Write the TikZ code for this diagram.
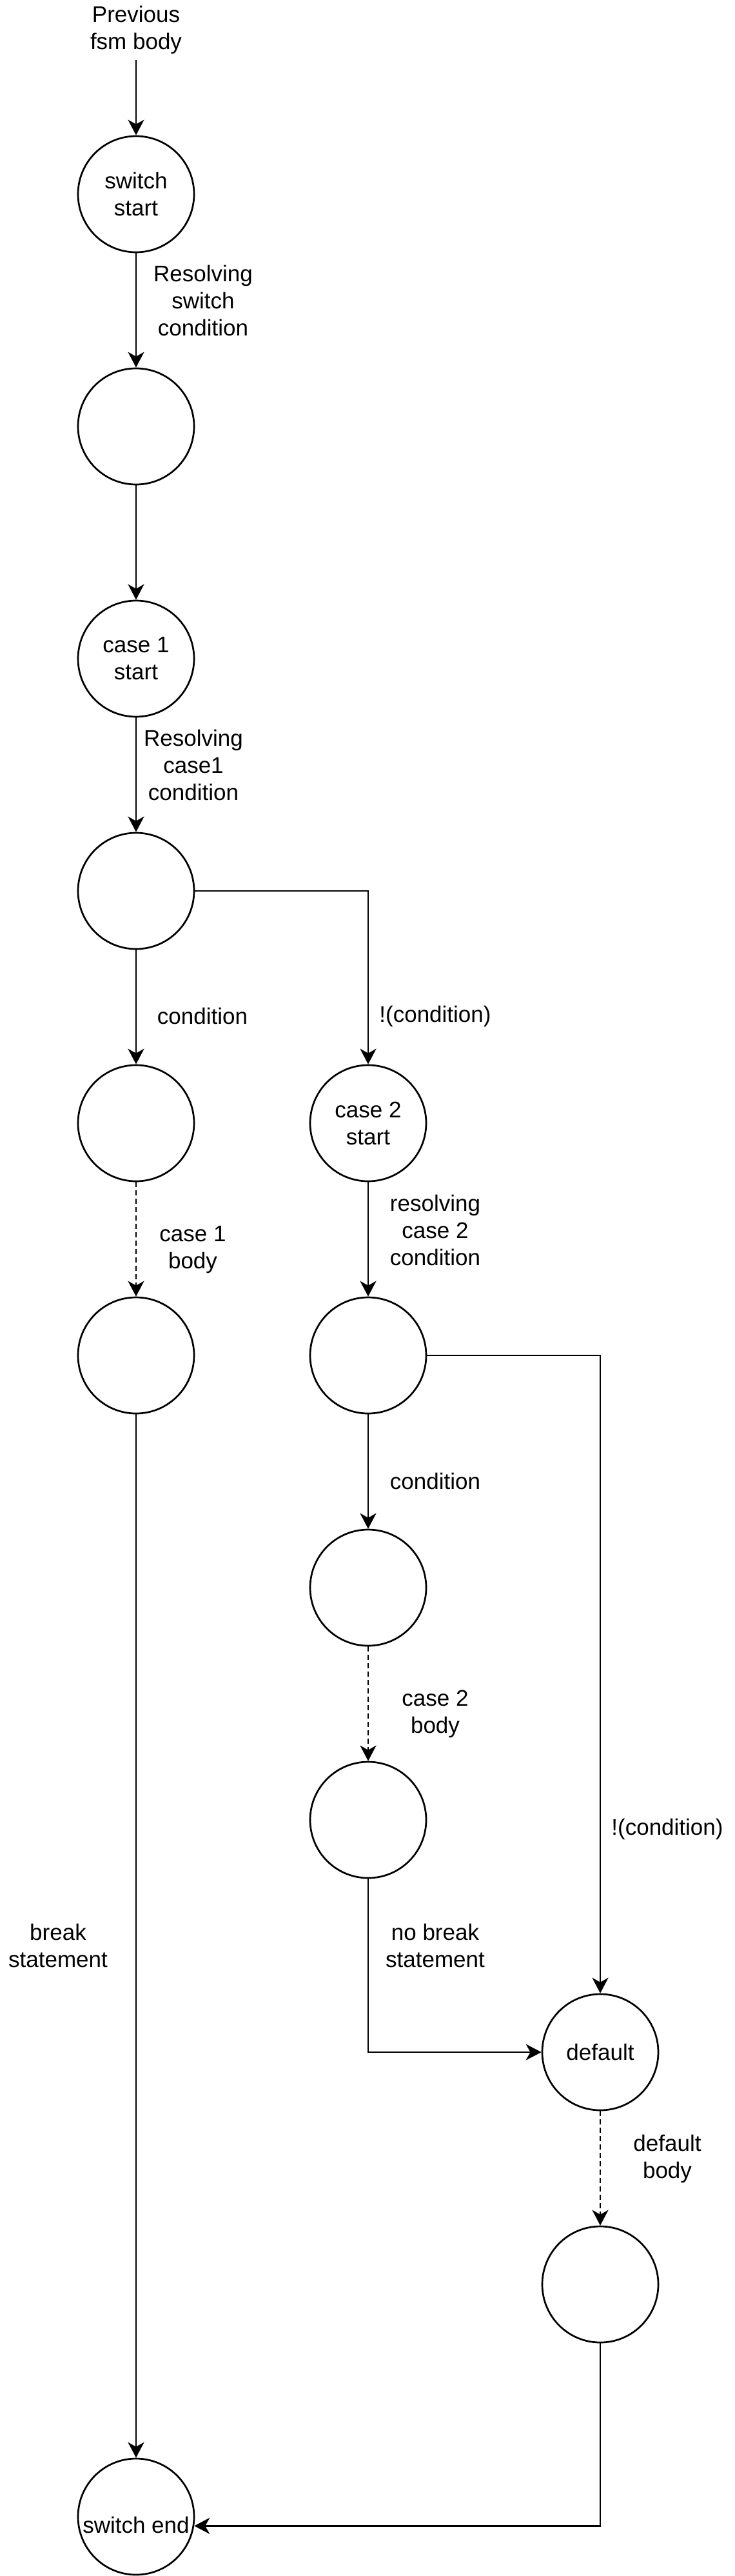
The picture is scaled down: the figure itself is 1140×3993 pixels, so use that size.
\documentclass[tikz,border=0pt]{standalone}
\usepackage{fontspec}
\setmainfont{Liberation Sans}
\usetikzlibrary{arrows.meta}
\begin{document}
\begin{tikzpicture}[x=1pt,y=-1pt,
  st/.style={circle, draw, line width=2.7pt, minimum size=180pt, inner sep=0pt, font=\fontsize{35}{42}\selectfont, align=center},
  lbl/.style={font=\fontsize{35}{42}\selectfont, align=center, inner sep=0pt},
  arr/.style={line width=2.9pt, -{Stealth[length=24pt,width=25pt,inset=7pt]}},
  dsh/.style={arr, dash pattern=on 8pt off 5pt}]
\useasboundingbox[fill=white] (0,0) rectangle (1140,3993);
% states
\node[lbl] (prev) at (211,46) {Previous\\fsm body};
\node[st] (sw) at (211,301) {switch\\start};
\node[st] (swr) at (211,661) {};
\node[st] (c1) at (211,1021) {case 1\\start};
\node[st] (c1r) at (211,1381) {};
\node[st] (c1c) at (211,1741) {};
\node[st] (c1b) at (211,2101) {};
\node[st] (c2) at (571,1741) {case 2\\start};
\node[st] (c2r) at (571,2101) {};
\node[st] (c2c) at (571,2461) {};
\node[st] (c2b) at (571,2821) {};
\node[st] (df) at (931,3181) {default};
\node[st] (dfb) at (931,3541) {};
\node[st] (se) at (211,3901) {};
\node[lbl] (setxt) at (211,3914) {switch end};
% labels
\node[lbl] (l1) at (315,466) {Resolving\\switch\\condition};
\node[lbl] (l2) at (300,1186) {Resolving\\case1\\condition};
\node[lbl] (l3) at (314,1575) {condition};
\node[lbl] (l4) at (675,1575) {!(condition)};
\node[lbl] (l5) at (299,1937) {case 1\\body};
\node[lbl] (l6) at (675,1907) {resolving\\case 2\\condition};
\node[lbl] (l7) at (675,2296) {condition};
\node[lbl] (l8) at (675,2657) {case 2\\body};
\node[lbl] (l9) at (1035,2835) {!(condition)};
\node[lbl] (l10) at (675,3016) {no break\\statement};
\node[lbl] (l11) at (90,3016) {break\\statement};
\node[lbl] (l12) at (1035,3346) {default\\body};
% connectors
\draw[arr] ([yshift=-9pt]prev.south) -- (sw);
\draw[arr] (sw) -- (swr);
\draw[arr] (swr) -- (c1);
\draw[arr] (c1) -- (c1r);
\draw[arr] (c1r) -- (c1c);
\draw[arr] (c1r.east) -| (c2.north);
\draw[dsh] (c1c) -- (c1b);
\draw[arr] (c1b) -- (se);
\draw[arr] (c2) -- (c2r);
\draw[arr] (c2r) -- (c2c);
\draw[arr] (c2r.east) -| (df.north);
\draw[dsh] (c2c) -- (c2b);
\draw[arr] (c2b.south) |- (df.west);
\draw[dsh] (df) -- (dfb);
\draw[arr] (dfb.south) |- (se.-9.5);
\end{tikzpicture}
\end{document}
